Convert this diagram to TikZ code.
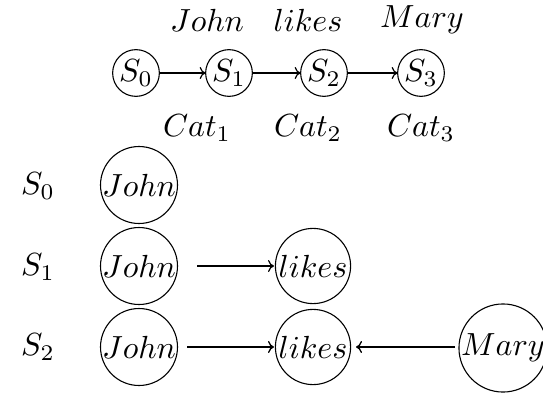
\documentclass[tikz,border=0pt]{standalone}
\usetikzlibrary{arrows.meta}
\begin{document}
\begin{tikzpicture}[x=1pt,y=-1pt,
  st/.style={circle,draw,line width=1.1pt,minimum size=14.6pt,inner sep=0pt,outer sep=0pt},
  wd/.style={circle,draw,line width=1.1pt,minimum size=23.5pt,inner sep=0pt,outer sep=0pt},
  arr/.style={line width=1.7pt,-{To[length=6pt,width=12pt,line width=1.2pt]}},
  tarr/.style={line width=2.6pt,-{To[length=6pt,width=12pt,line width=1.3pt]}}]
\useasboundingbox (0,0) rectangle (543,394);
\begin{scope}[x=0.3125pt,y=-0.3125pt,scale=3.2,transform shape]
% top chain
\node[st] (s0) at (136,73) {$S_0$};
\node[st] (s1) at (229,73) {$S_1$};
\node[st] (s2) at (324,73) {$S_2$};
\node[st] (s3) at (421,73) {$S_3$};
\node (w1) at (207,20) {$John$};
\node (w2) at (308,20) {$likes$};
\node (w3) at (422,20) {$Mary$};
\node (c1) at (197,128) {$Cat_1$};
\node (c2) at (308,128) {$Cat_2$};
\node (c3) at (421,128) {$Cat_3$};
% bottom rows
\node (l0) at (38,186) {$S_0$};
\node (l1) at (38,267) {$S_1$};
\node (l2) at (38,347) {$S_2$};
\node[wd] (j0) at (139,185) {$John$};
\node[wd] (j1) at (139,266) {$John$};
\node[wd] (j2) at (139,347) {$John$};
\node[wd] (k1) at (313,266) {$likes$};
\node[wd] (k2) at (313,347) {$likes$};
\node[wd,minimum size=26.5pt] (m2) at (503,348) {$Mary$};
\end{scope}
\draw[arr] (s0) -- (s1);
\draw[arr] (s1) -- (s2);
\draw[arr] (s2) -- (s3);
\coordinate (a1s) at (197,266);
\coordinate (a1e) at (274,266);
\draw[arr] (a1s) -- (a1e);
\coordinate (a2s) at (187,347);
\coordinate (a2e) at (274,347);
\draw[tarr] (a2s) -- (a2e);
\coordinate (a3s) at (455,347);
\coordinate (a3e) at (356,347);
\draw[tarr] (a3s) -- (a3e);
\end{tikzpicture}
\end{document}
